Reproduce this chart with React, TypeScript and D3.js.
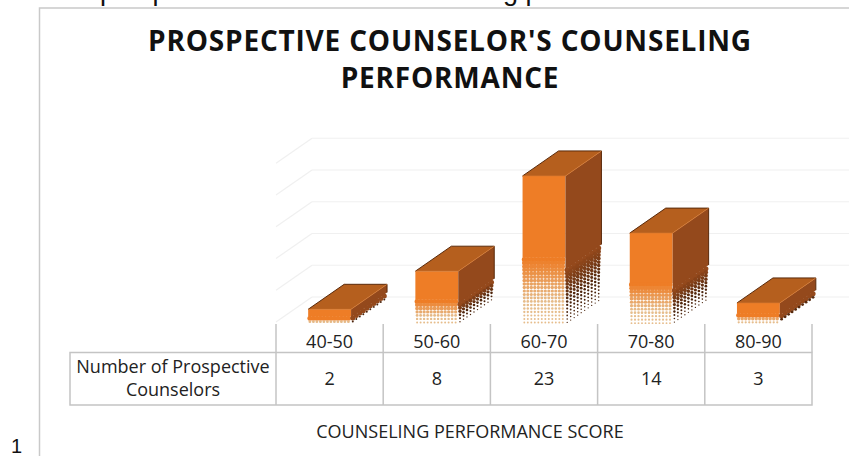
import React, { useEffect, useRef } from 'react';
import * as d3 from 'd3';

const categories = ['40-50', '50-60', '60-70', '70-80', '80-90'];
const counts = [2, 8, 23, 14, 3];
const titleLines = ["PROSPECTIVE COUNSELOR'S COUNSELING", 'PERFORMANCE'];
const rowLabel = ['Number of Prospective', 'Counselors'];
const xTitle = 'COUNSELING PERFORMANCE SCORE';
const cutOffLine = 'results of prospective counselors\' counseling practice achievements';

const WIDTH = 849;
const HEIGHT = 456;
const FONT = '"Open Sans", sans-serif';
const CELL = 3.5;

const App = () => {
  const svgRef = useRef<SVGSVGElement>(null);

  useEffect(() => {
    const svg = d3.select(svgRef.current);
    svg.selectAll('*').remove();

    const x = d3.scaleBand().domain(categories).range([276, 812]);
    const y = d3.scaleLinear().domain([0, 25]).range([322, 163.25]);
    const barW = x.bandwidth() * 0.4;
    const depthX = 36;
    const depthY = 25;

    // cut off line of page text + chart frame
    svg.append('text')
      .attr('x', -17).attr('y', 0)
      .attr('font-family', 'Liberation Sans, sans-serif').attr('font-size', 27)
      .attr('fill', '#111').text(cutOffLine);
    svg.append('path')
      .attr('d', `M39.5,${HEIGHT}V8H${WIDTH}`)
      .attr('fill', 'none').attr('stroke', '#c9c9c9').attr('stroke-width', 1.5);

    // title
    svg.selectAll('.title').data(titleLines).enter().append('text')
      .attr('x', 450).attr('y', (_, i) => 51 + i * 37)
      .attr('text-anchor', 'middle')
      .attr('font-family', FONT).attr('font-weight', 700).attr('font-size', 28)
      .attr('letter-spacing', 0.8)
      .attr('fill', '#111').text(d => d);

    // back wall and side wall grid
    const wall = svg.append('g').attr('stroke', '#f0f0f0').attr('stroke-width', 1.2).attr('fill', 'none');
    y.ticks(5).forEach(t => {
      const yy = y(t);
      wall.append('path').attr('d', `M${276 + depthX},${yy - depthY}L${WIDTH},${yy - depthY}`);
      wall.append('path').attr('d', `M276,${yy}L${276 + depthX},${yy - depthY}`);
    });

    // bars
    categories.forEach((cat, i) => {
      const v = counts[i];
      const x0 = x(cat)! + (x.bandwidth() - barW) / 2;
      const x1 = x0 + barW;
      const yTop = y(v);
      const yBase = y(0);
      const h = yBase - yTop;
      const g = svg.append('g');

      const frontStart = yTop + h * 0.56;
      const sideStart = yTop + h * 0.64;

      // solid parts
      g.append('path')
        .attr('d', `M${x0},${yTop}H${x1}V${frontStart}H${x0}Z`)
        .attr('fill', '#ee7d26');
      g.append('path')
        .attr('d', `M${x1},${yTop}L${x1 + depthX},${yTop - depthY}V${sideStart - depthY}L${x1},${sideStart}Z`)
        .attr('fill', '#94491c');
      g.append('path')
        .attr('d', `M${x0},${yTop}L${x0 + depthX},${yTop - depthY}H${x1 + depthX}L${x1},${yTop}Z`)
        .attr('fill', '#b55f1e');

      // halftone fade on the lower part of both faces
      const dots = g.append('g');
      const frontColor = d3.interpolateRgb('#ee7d26', '#e6bd8c');
      for (let cy = frontStart; cy < yBase; cy += CELL) {
        const t = (cy - frontStart) / (yBase - frontStart);
        for (let cx = x0 + CELL / 2; cx < x1; cx += CELL) {
          dots.append('circle')
            .attr('cx', cx).attr('cy', cy + CELL / 2)
            .attr('r', CELL * (0.72 - 0.46 * Math.pow(t, 0.8)))
            .attr('fill', frontColor(Math.min(1, t * 1.5)));
        }
      }
      const sideColor = d3.interpolateRgb('#94491c', '#4a230b');
      for (let cx = x1 + CELL / 2; cx < x1 + depthX; cx += CELL) {
        const shift = (cx - x1) * (depthY / depthX);
        for (let cy = sideStart; cy < yBase; cy += CELL) {
          const t = (cy - sideStart) / (yBase - sideStart);
          dots.append('circle')
            .attr('cx', cx).attr('cy', cy + CELL / 2 - shift)
            .attr('r', CELL * (0.72 - 0.54 * Math.pow(t, 0.8)))
            .attr('fill', sideColor(Math.min(1, t * 1.6)));
        }
      }

      // dark rim along the back and right edges
      g.append('path')
        .attr('d', `M${x0},${yTop}L${x0 + depthX},${yTop - depthY}H${x1 + depthX}V${sideStart - depthY}`)
        .attr('fill', 'none').attr('stroke', '#5a2a0b').attr('stroke-width', 1);
      g.append('path')
        .attr('d', `M${x0},${yTop}H${x1}L${x1 + depthX},${yTop - depthY}`)
        .attr('fill', 'none').attr('stroke', '#d9792e').attr('stroke-width', 0.7);
    });

    // data table
    const grid = svg.append('g').attr('stroke', '#c4c4c4').attr('stroke-width', 1.5).attr('fill', 'none');
    const xRange = x.range();
    grid.append('path').attr('d', `M70,352.5H${xRange[1]}V405H70Z`);
    grid.append('path').attr('d', `M${xRange[1]},324V352.5`);
    categories.forEach(cat => {
      grid.append('path').attr('d', `M${x(cat)},324V405`);
    });

    const label = (sel: any) => sel
      .attr('font-family', FONT).attr('font-size', 18).attr('fill', '#222');

    categories.forEach((cat, i) => {
      const cx = x(cat)! + x.bandwidth() / 2;
      svg.append('text').attr('x', cx).attr('y', 348).attr('text-anchor', 'middle').call(label).text(cat);
      svg.append('text').attr('x', cx).attr('y', 385).attr('text-anchor', 'middle').call(label).text(counts[i]);
    });
    rowLabel.forEach((line, i) => {
      svg.append('text').attr('x', 173).attr('y', 373 + i * 23).attr('text-anchor', 'middle').call(label).text(line);
    });

    svg.append('text').attr('x', 470).attr('y', 438).attr('text-anchor', 'middle')
      .call(label).text(xTitle);

    svg.append('text').attr('x', 11).attr('y', 453)
      .attr('font-family', 'Liberation Sans, sans-serif').attr('font-size', 20).attr('fill', '#111').text('1');
  }, []);

  return (
    <svg
      ref={svgRef}
      width={WIDTH}
      height={HEIGHT}
      style={{ position: 'absolute', left: 0, top: 0, background: '#fff' }}
    />
  );
};

export default App;
